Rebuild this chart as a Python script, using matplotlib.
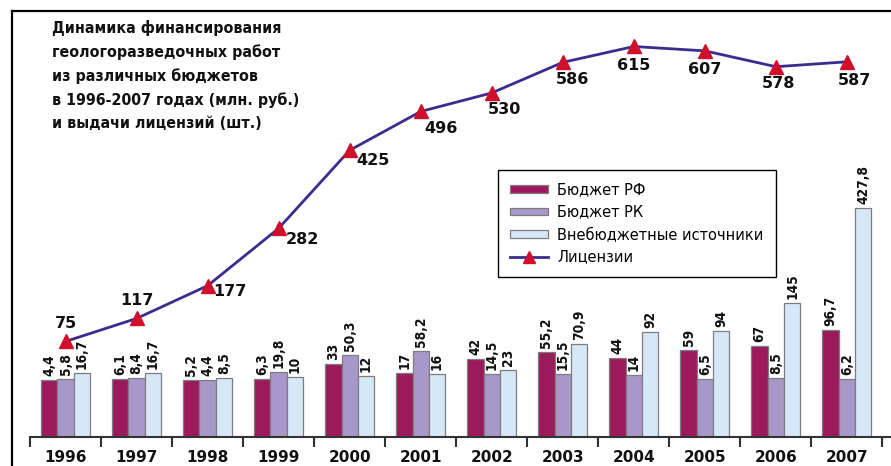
import matplotlib
matplotlib.use('Agg')
import matplotlib.pyplot as plt
import numpy as np
from matplotlib.lines import Line2D
from matplotlib.patches import Patch

# ---------------- data ----------------
years = ['1996', '1997', '1998', '1999', '2000', '2001',
         '2002', '2003', '2004', '2005', '2006', '2007']
budget_rf = [4.4, 6.1, 5.2, 6.3, 33, 17, 42, 55.2, 44, 59, 67, 96.7]
budget_rk = [5.8, 8.4, 4.4, 19.8, 50.3, 58.2, 14.5, 15.5, 14, 6.5, 8.5, 6.2]
extra_budget = [16.7, 16.7, 8.5, 10, 12, 16, 23, 70.9, 92, 94, 145, 427.8]
licenses = [75, 117, 177, 282, 425, 496, 530, 586, 615, 607, 578, 587]

series_names = ['Бюджет РФ', 'Бюджет РК', 'Внебюджетные источники', 'Лицензии']
title = ('Динамика финансирования\nгеологоразведочных работ\nиз различных бюджетов\n'
         'в 1996-2007 годах (млн. руб.)\nи выдачи лицензий (шт.)')

# ---------------- style ----------------
c_rf = '#9c1a5c'
c_rk = '#a898c9'
c_ext = '#d6e8f8'
c_edge = '#7d7d7d'
c_line = '#3a2d8f'
c_mark = '#d0102a'

# label offsets for license values (pixels)
lic_offsets = [(0, 18), (0, 18), (22, -6), (24, -11), (23, -10), (20, -17),
               (13, -17), (10, -17), (0, -19), (0, -19), (3, -17), (8, -19)]

W, H = 891, 466
fig = plt.figure(figsize=(W / 100, H / 100), dpi=100)
fig.patch.set_facecolor('white')

ax = fig.add_axes([30 / W, (H - 437) / H, (W - 30) / W, (437 - 11) / H])

# compressed scale above 150 (as in the original graphic)
K = 0.61
def fwd(v):
    v = np.asarray(v, dtype=float)
    return np.where(v <= 150, v, 150 + K * (v - 150))
def inv(u):
    u = np.asarray(u, dtype=float)
    return np.where(u <= 150, u, 150 + (u - 150) / K)

ax.set_yscale('function', functions=(fwd, inv))
BASE = -100
TOP = 680
ax.set_ylim(BASE, float(inv(TOP)))
ax.set_xlim(-0.5, 11.62)

x = np.arange(len(years))
bw = 0.23
cond = dict(fontweight='bold', fontstretch='condensed', family='DejaVu Sans')

def fmt(v):
    return f'{v:g}'.replace('.', ',')

for off, vals, col in [(-bw, budget_rf, c_rf), (0, budget_rk, c_rk), (bw, extra_budget, c_ext)]:
    vals = np.asarray(vals, float)
    ax.bar(x + off, vals - BASE, bottom=BASE, width=bw, color=col,
           edgecolor=c_edge, linewidth=0.9, zorder=2)
    for xi, v in zip(x + off, vals):
        ax.annotate(fmt(v), (xi, v), xytext=(0, 4), textcoords='offset pixels',
                    rotation=90, ha='center', va='bottom', fontsize=9.8,
                    color='#111111', **cond)

for s in ['top', 'left', 'right']:
    ax.spines[s].set_visible(False)
ax.spines['bottom'].set_color('#333333')
ax.spines['bottom'].set_linewidth(1.5)
ax.set_yticks([])
ax.set_xticks(x)
ax.set_xticklabels(years, fontsize=11, fontweight='bold', color='#111111')
ax.set_xticks(np.arange(-0.5, 12, 1), minor=True)
ax.tick_params(axis='x', which='major', length=0, pad=9)
ax.tick_params(axis='x', which='minor', length=7.5, width=1.5, color='#333333', direction='out')
ax.patch.set_alpha(0)

ax2 = ax.twinx()
ax2.set_ylim(BASE, TOP)
ax2.set_yticks([])
for s in ax2.spines.values():
    s.set_visible(False)
ax2.plot(x, licenses, color=c_line, lw=2, zorder=3)
ax2.plot(x, licenses, ls='none', marker='^', ms=10, mfc=c_mark, mec=c_mark, zorder=4)
for xi, v, (dx, dy) in zip(x, licenses, lic_offsets):
    ax2.annotate(str(v), (xi, v), xytext=(dx, dy), textcoords='offset pixels',
                 ha='center', va='center', fontsize=11.5, fontweight='bold', color='#111111')

handles = [Patch(facecolor=c_rf, edgecolor=c_edge, lw=0.9),
           Patch(facecolor=c_rk, edgecolor=c_edge, lw=0.9),
           Patch(facecolor=c_ext, edgecolor=c_edge, lw=0.9),
           Line2D([], [], color=c_line, lw=2, marker='^', ms=9, mfc=c_mark, mec=c_mark)]
leg = fig.legend(handles, series_names, loc='upper left',
                 bbox_to_anchor=(498 / W, 1 - 170 / H), borderaxespad=0,
                 frameon=True, fancybox=False, edgecolor='black', framealpha=1,
                 fontsize=10.5, handlelength=2.6, handleheight=0.45,
                 labelspacing=0.5, borderpad=0.85, handletextpad=0.6)
leg.get_frame().set_linewidth(1.0)

fig.text(52 / W, 1 - 20 / H, title, ha='left', va='top', fontsize=11.4,
         linespacing=1.66, color='#111111', **cond)

# outer frame (top and left)
fig.add_artist(Line2D([12 / W, 12 / W], [0, 1 - 11 / H], transform=fig.transFigure,
                      color='black', lw=1.6))
fig.add_artist(Line2D([12 / W, 1], [1 - 11 / H, 1 - 11 / H], transform=fig.transFigure,
                      color='black', lw=1.6))

fig.savefig('out.png', dpi=100)
